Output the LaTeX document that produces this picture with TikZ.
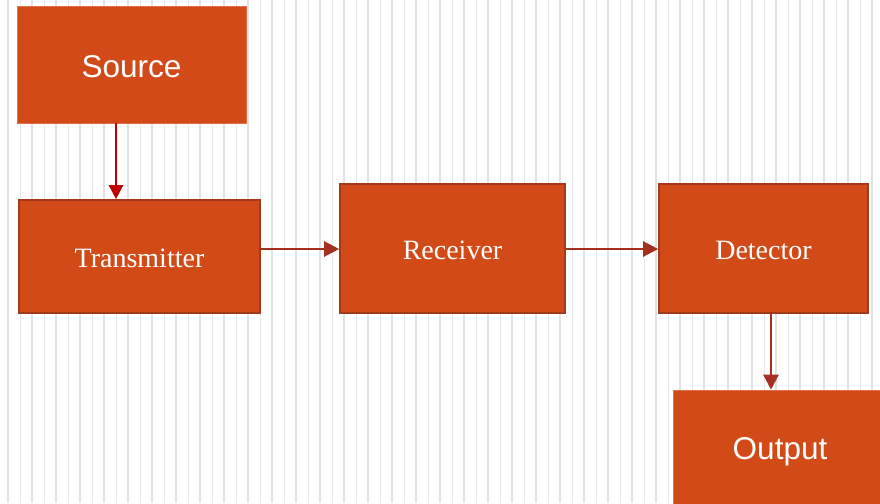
\documentclass[tikz,border=0pt]{standalone}
\usepackage{fontspec}
\setmainfont{Liberation Serif}
\newfontfamily\boxsans{Liberation Sans}
\usetikzlibrary{arrows.meta}
\definecolor{boxfill}{HTML}{D24A17}
\definecolor{boxedge}{HTML}{A23A1B}
\definecolor{softedge}{HTML}{E07048}
\definecolor{arrred}{HTML}{C00000}
\definecolor{arrbrown}{HTML}{A5301F}
\definecolor{gridthick}{HTML}{E2E2E2}
\definecolor{gridthin}{HTML}{E8E8E8}
\newcommand{\lowtext}[1]{\raisebox{-2pt}[\height][\depth]{#1}}
\tikzset{
  sansbox/.style={draw=softedge, line width=0.6pt, fill=boxfill, text=white, font=\boxsans\fontsize{31.5}{36}\selectfont, inner sep=0pt},
  serifbox/.style={draw=boxedge, line width=1.6pt, fill=boxfill, text=white, font=\fontsize{28}{32}\selectfont, inner sep=0pt},
  redarrow/.style={draw=arrred, line width=2.3pt, -{Triangle[length=14pt,width=14pt]}},
  brownarrow/.style={draw=arrbrown, line width=2.3pt, -{Triangle[length=15pt,width=15pt]}},
}
\begin{document}
\begin{tikzpicture}[x=1pt,y=-1pt]
\useasboundingbox (0,0) rectangle (880,503);
\fill[white] (0,0) rectangle (880,503);
% background stripes
\foreach \i in {0,...,36} {
  \draw[gridthick, line width=1.3pt] (8+24*\i,0) -- (8+24*\i,503);
  \draw[gridthin, line width=0.8pt] (20.5+24*\i,0) -- (20.5+24*\i,503);
}
% boxes
\node[sansbox, minimum width=229pt, minimum height=117pt] (src) at (131.5,64.5) {\lowtext{Source}};
\node[serifbox, minimum width=241pt, minimum height=113pt] (trans) at (139.5,256.5) {\lowtext{Transmitter}};
\node[serifbox, minimum width=225pt, minimum height=129pt] (recv) at (452.5,248.5) {\lowtext{Receiver}};
\node[serifbox, minimum width=209pt, minimum height=129pt] (det) at (763.5,248.5) {\lowtext{Detector}};
\node[sansbox, minimum width=214pt, minimum height=120pt] (out) at (780,450) {\lowtext{Output}};
% connectors
\draw[redarrow] ([xshift=-15.5pt]src.south) -- ([xshift=-23.5pt]trans.north);
\draw[brownarrow] ([yshift=7.5pt]trans.east) -- ([yshift=-0.5pt]recv.west);
\draw[brownarrow] ([yshift=-0.5pt]recv.east) -- ([yshift=-0.5pt]det.west);
\draw[brownarrow] ([xshift=7.5pt]det.south) -- ([xshift=-9pt]out.north);
\end{tikzpicture}
\end{document}
